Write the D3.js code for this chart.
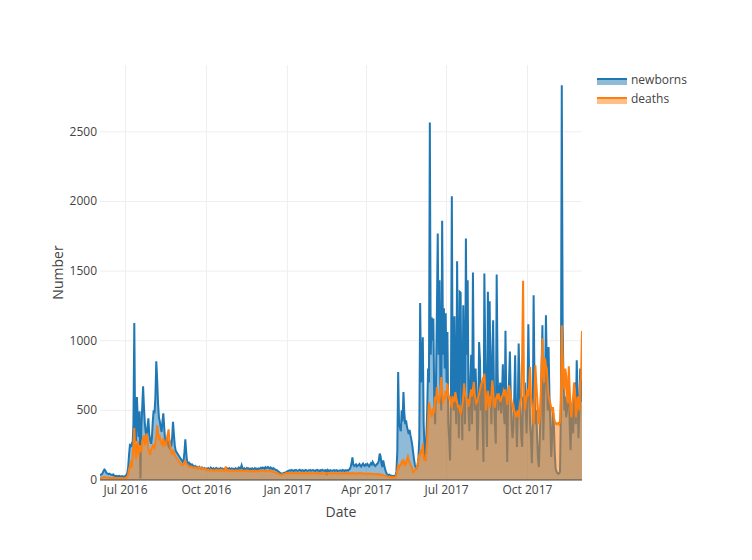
<!DOCTYPE html>
<html><head><meta charset="utf-8">
<script src="https://cdn.jsdelivr.net/npm/d3@7"></script>
<style>body{margin:0;background:#fff}</style>
</head><body><svg id="c" width="752" height="560"></svg>
<script>
const seriesNames = ["newborns", "deaths"];
const seriesColors = ["#1f77b4", "#ff7f0e"];
const startDate = "2016-06-02";
const endDate = "2017-12-02";
const xTickDates = ["2016-07-01", "2016-10-01", "2017-01-01", "2017-04-01", "2017-07-01", "2017-10-01"];
const xTickLabels = ["Jul 2016", "Oct 2016", "Jan 2017", "Apr 2017", "Jul 2017", "Oct 2017"];
const yTicks = [0, 500, 1000, 1500, 2000, 2500];

// daily values, Jun 2 2016 .. Dec 31 2016
const newborns2016 = [
  35,38,42,50,65,75,70,55,48,45,42,45,40,38,35,40,32,30,28,30,25,28,30,26,24,28,25,22,25,
  30,35,50,90,180,250,245,260,240,400,1128,300,280,596,420,310,493,10,380,520,673,520,407,340,309,380,443,330,290,260,300,
  420,500,480,600,853,720,550,450,420,380,345,420,479,380,285,260,300,280,240,230,260,240,300,417,330,250,210,200,190,180,170,
  160,150,140,130,140,200,292,200,130,120,125,110,115,105,110,100,95,100,90,95,85,90,95,85,80,90,85,80,85,78,
  82,78,85,80,76,88,82,79,84,75,80,86,78,82,74,80,85,77,83,79,72,80,84,76,82,78,85,80,75,83,79,
  80,76,84,78,82,75,88,80,85,105,82,78,84,76,80,86,79,83,75,81,77,84,80,78,85,79,82,76,83,80,
  84,88,82,90,86,80,92,85,88,94,86,82,90,84,78,85,80,76,72,70,65,60,55,50,48,45,48,52,50,55,58
];
// daily values, Jan 1 2017 .. Dec 2 2017
const newborns2017 = [
  62,65,68,70,66,72,68,64,70,67,72,68,65,70,74,68,66,71,69,64,70,73,67,65,70,68,72,66,69,71,67,
  68,65,70,72,66,69,64,70,68,73,67,65,71,69,35,72,68,64,70,67,65,69,71,66,68,70,64,67,
  66,70,68,64,72,69,65,70,67,71,68,74,80,95,120,163,110,100,105,112,98,104,108,115,102,96,110,118,105,100,112,
  108,115,104,98,110,120,112,130,118,105,100,108,115,122,140,190,170,120,93,140,110,80,60,45,40,35,38,30,32,28,
  30,28,25,35,60,200,776,400,380,350,500,420,632,480,400,429,380,357,330,360,320,290,250,200,150,110,90,84,100,150,300,
  1271,700,800,1025,400,237,141,300,500,800,700,2567,900,1169,1000,1160,600,400,700,1200,1770,900,1435,700,500,1861,900,1233,800,1197,
  700,1063,400,300,141,600,2038,700,500,1176,600,400,1571,800,300,1351,1345,500,285,1255,800,400,1734,900,1435,500,350,700,900,400,1490,
  700,500,800,600,213,400,991,860,500,700,400,130,1483,900,500,237,1351,600,1284,700,400,900,1147,600,400,261,1475,800,500,600,700,
  478,600,831,500,400,1071,500,130,600,700,922,600,400,300,381,600,896,500,237,500,980,700,500,300,237,600,500,700,500,335,
  600,1119,700,400,300,120,400,1327,700,400,500,300,150,93,300,500,800,1111,285,600,700,1183,800,500,955,600,400,165,300,500,400,
  200,80,60,50,45,48,60,500,2835,1100,700,500,600,450,500,600,747,400,213,450,500,335,600,700,400,860,600,300,500,800,
  700,560
];
const deaths2016 = [
  12,14,15,18,20,22,20,18,17,16,18,15,16,15,14,16,15,14,13,15,14,13,12,14,13,12,12,11,12,
  12,15,25,40,80,100,120,90,180,250,374,200,150,250,280,180,250,220,200,280,300,320,250,280,335,300,220,200,180,220,230,
  250,240,230,270,320,393,340,300,310,280,260,250,300,270,250,260,300,330,364,280,240,200,190,210,200,180,170,160,150,140,130,
  120,115,110,105,115,130,137,120,110,100,95,98,92,95,90,88,92,86,90,85,88,84,90,82,86,80,84,78,82,80,
  72,68,75,70,66,74,70,68,72,65,70,74,67,72,64,70,75,68,73,69,65,70,98,66,72,68,70,64,67,71,68,
  66,64,70,65,68,62,70,66,68,72,65,62,68,64,66,70,63,67,61,65,62,66,64,60,67,63,65,61,66,64,
  66,70,64,68,65,62,70,66,64,68,65,62,66,60,58,62,56,54,52,50,48,45,42,40,38,40,42,44,45,48,50
];
const deaths2017 = [
  48,50,52,48,46,52,50,47,51,49,53,48,46,50,52,48,47,51,49,45,50,53,48,46,50,49,52,47,50,51,48,
  49,46,50,52,47,49,45,50,48,52,47,46,50,48,46,51,48,48,50,47,46,49,51,47,48,50,45,47,
  48,50,47,45,51,49,46,50,48,52,47,50,48,45,50,52,48,46,50,47,45,49,51,46,48,50,47,45,48,46,44,
  46,44,48,45,42,46,44,40,43,45,42,40,44,41,38,42,40,36,38,35,33,30,28,25,24,22,25,20,22,20,
  22,20,18,22,40,70,105,90,105,110,130,120,141,130,110,120,150,170,140,130,110,100,80,57,60,70,80,90,110,150,180,
  180,220,190,261,150,141,140,200,300,450,560,520,500,450,480,520,480,600,580,668,600,550,580,620,740,650,550,600,580,640,
  600,692,620,580,600,550,520,600,580,560,632,590,560,520,540,500,480,510,540,600,694,620,600,560,580,525,560,620,650,600,650,
  704,620,580,550,560,600,620,650,680,700,720,700,764,644,500,560,640,580,520,560,620,716,650,550,520,580,600,580,623,600,560,
  580,600,610,640,620,650,600,540,600,680,644,600,560,525,540,500,480,450,480,500,450,520,560,600,900,1430,700,500,550,600,
  650,600,700,812,600,550,517,400,600,824,700,600,500,400,450,600,800,1018,750,700,874,820,800,700,600,580,550,520,500,524,450,
  420,410,400,405,410,400,420,600,1111,900,700,650,800,750,600,550,817,650,500,450,550,600,700,650,450,500,600,550,500,700,
  750,1070
];

const newborns = newborns2016.concat(newborns2017);
const deaths = deaths2016.concat(deaths2017);
const parse = d3.utcParse("%Y-%m-%d");
const t0 = parse(startDate), t1 = parse(endDate);
const dates = d3.utcDay.range(t0, d3.utcDay.offset(t1, 1));
const series = [newborns, deaths].map((vals, k) => ({
  name: seriesNames[k], color: seriesColors[k],
  points: vals.map((v, i) => ({date: dates[i], value: v})).filter(p => p.date)
}));

const FONT = '"Open Sans", verdana, arial, sans-serif';
const TXT = "#444";
const svg = d3.select("#c");
svg.append("rect").attr("width", 752).attr("height", 560).attr("fill", "#fff");

const L = 100, R = 582, T = 65, B = 480;
const x = d3.scaleUtc().domain([t0, t1]).range([L, R]);
const y = d3.scaleLinear().domain([0, 2980]).range([B, T]);

// grid
const grid = svg.append("g");
grid.selectAll("line.yg").data(yTicks.filter(v => v > 0)).join("line")
  .attr("x1", L).attr("x2", R).attr("y1", d => y(d)).attr("y2", d => y(d))
  .attr("stroke", "#eee").attr("stroke-width", 1);
grid.selectAll("line.xg").data(xTickDates).join("line")
  .attr("x1", d => x(parse(d))).attr("x2", d => x(parse(d))).attr("y1", T).attr("y2", B)
  .attr("stroke", "#eee").attr("stroke-width", 1);

// data
svg.append("clipPath").attr("id", "clip").append("rect")
  .attr("x", L).attr("y", T - 2).attr("width", R - L).attr("height", B - T + 2);
const plot = svg.append("g").attr("clip-path", "url(#clip)");
const area = d3.area().x(d => x(d.date)).y0(y(0)).y1(d => y(d.value));
const line = d3.line().x(d => x(d.date)).y(d => y(d.value));
series.forEach(s => {
  plot.append("path").datum(s.points).attr("d", area)
    .attr("fill", s.color).attr("fill-opacity", 0.5).attr("stroke", "none");
  plot.append("path").datum(s.points).attr("d", line)
    .attr("fill", "none").attr("stroke", s.color).attr("stroke-width", 2);
});

// zero line
svg.append("line").attr("x1", L).attr("x2", R).attr("y1", y(0)).attr("y2", y(0))
  .attr("stroke", "#444").attr("stroke-width", 1);

// y tick labels
svg.append("g").selectAll("text").data(yTicks).join("text")
  .attr("x", L - 3).attr("y", d => y(d) + 4)
  .attr("text-anchor", "end").attr("font-family", FONT).attr("font-size", 12).attr("fill", TXT)
  .text(d => String(d));
// x tick labels
svg.append("g").selectAll("text").data(xTickDates).join("text")
  .attr("x", d => x(parse(d))).attr("y", 494)
  .attr("text-anchor", "middle").attr("font-family", FONT).attr("font-size", 12).attr("fill", TXT)
  .text((d, i) => xTickLabels[i]);

// axis titles
svg.append("text").attr("x", (L + R) / 2).attr("y", 517).attr("text-anchor", "middle")
  .attr("font-family", FONT).attr("font-size", 14).attr("fill", TXT).text("Date");
svg.append("text").attr("transform", `translate(63,${(T + B) / 2}) rotate(-90)`)
  .attr("text-anchor", "middle").attr("font-family", FONT).attr("font-size", 14).attr("fill", TXT).text("Number");

// legend
const leg = svg.append("g").attr("transform", "translate(597,79)");
series.forEach((s, i) => {
  const g = leg.append("g").attr("transform", `translate(0,${i * 19})`);
  g.append("rect").attr("x", 0).attr("y", 0).attr("width", 30).attr("height", 6)
    .attr("fill", s.color).attr("fill-opacity", 0.5);
  g.append("line").attr("x1", 0).attr("x2", 30).attr("y1", 0).attr("y2", 0)
    .attr("stroke", s.color).attr("stroke-width", 2);
  g.append("text").attr("x", 34).attr("y", 4.5)
    .attr("font-family", FONT).attr("font-size", 12).attr("fill", TXT).text(s.name);
});
</script></body></html>
